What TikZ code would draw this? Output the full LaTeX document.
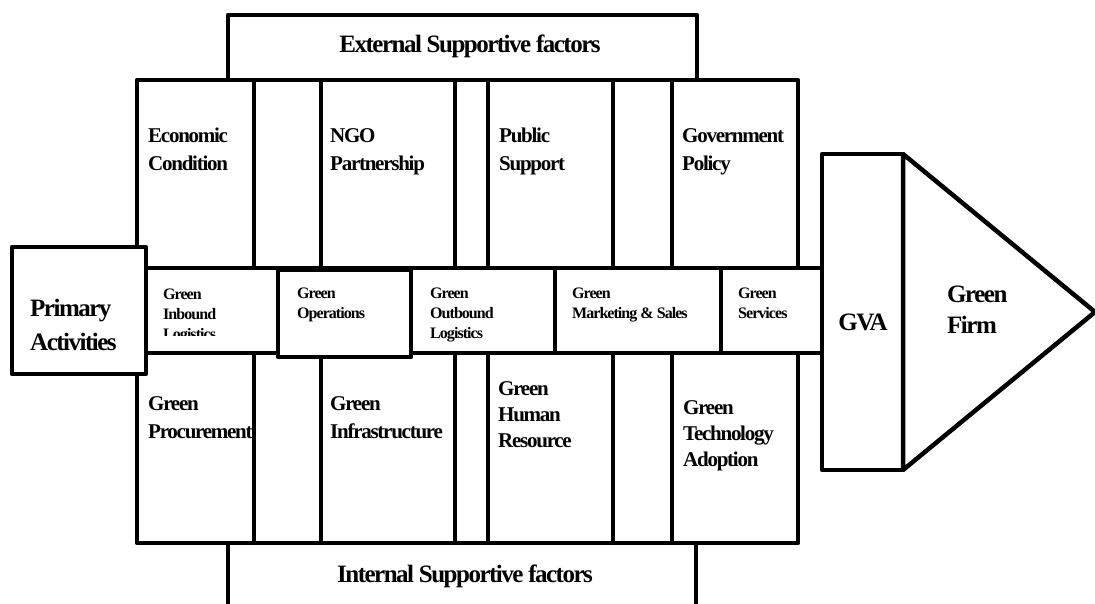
\documentclass[tikz,border=0pt]{standalone}
\usepackage{fontspec}
\setmainfont{Liberation Serif}[LetterSpace=-6]
\usetikzlibrary{positioning}
\tikzset{
  box/.style={draw=black, fill=white, line width=4.5pt, line join=round},
  lbl/.style={anchor=base west, align=left, inner sep=0pt, font=\bfseries\fontsize{21}{28}\selectfont},
  midlbl/.style={lbl, font=\bfseries\fontsize{16}{20}\selectfont},
  biglbl/.style={inner sep=0pt, align=left, font=\bfseries\fontsize{25}{32}\selectfont},
}

\begin{document}
\begin{tikzpicture}[x=1pt, y=-1pt]
        \useasboundingbox (0,0) rectangle (1095,604);
        \clip (0,0) rectangle (1095,604);
        % external / internal header boxes
        \draw[box] (228,15) rectangle (697,80);
        \draw[box] (228,543) rectangle (696,640);
        \node[biglbl, anchor=base] (ext) at (470,53) {External Supportive factors};
        \node[biglbl, anchor=base] (int) at (465,582) {Internal Supportive factors};
        % upper row (anchored at last baseline)
        \foreach \a/\b in {137/254, 254/321, 321/455, 455/488, 488/613, 613/672, 672/798}
          \draw[box] (\a,80) rectangle (\b,268);
        \node[lbl] (econ) at (148,171) {Economic\\Condition};
        \node[lbl] (ngo) at (330,171) {NGO\\Partnership};
        \node[lbl] (pub) at (499,171) {Public\\Support};
        \node[lbl] (gov) at (682,171) {Government\\Policy};
        % lower row
        \foreach \a/\b in {137/254, 254/321, 321/455, 455/488, 488/613, 613/672, 672/798}
          \draw[box] (\a,353) rectangle (\b,543);
        \node[lbl] (proc) at (148,438) {Green\\Procurement};
        \node[lbl] (infra) at (330,438) {Green\\Infrastructure};
        \node[lbl, font=\bfseries\fontsize{21}{26}\selectfont] (hr) at (498,447) {Green\\Human\\Resource};
        \node[lbl, font=\bfseries\fontsize{21}{26}\selectfont] (tech) at (683,466) {Green\\Technology\\Adoption};
        % primary activities row
        \foreach \a/\b in {145/278, 411/555, 555/721, 721/822}
          \draw[box] (\a,268) rectangle (\b,353);
        \draw[box] (278,270) rectangle (411,357);
        \begin{scope}
          \clip (145,268) rectangle (278,335);
          \node[midlbl] (inb) at (163,339) {Green\\Inbound\\Logistics};
        \end{scope}
        \node[midlbl] (ops) at (297,318) {Green\\Operations};
        \node[midlbl] (outb) at (430,338) {Green\\Outbound\\Logistics};
        \node[midlbl] (mkt) at (572,318) {Green\\Marketing \& Sales};
        \node[midlbl] (serv) at (738,318) {Green\\Services};
        % primary box
        \draw[box] (12,247) rectangle (146,374);
        \node[biglbl, anchor=base west, font=\bfseries\fontsize{25}{34}\selectfont] (prim) at (30,350) {Primary\\Activities};
        % GVA and firm
        \draw[box] (822,154) rectangle (903,470);
        \draw[box] (903,154) -- (1095,312) -- (903,470) -- cycle;
        \node[biglbl, anchor=base] (gva) at (863,330) {GVA};
        \node[biglbl, anchor=base west, font=\bfseries\fontsize{25}{31}\selectfont] (firm) at (947,333) {Green\\Firm};
      \end{tikzpicture}
\end{document}
